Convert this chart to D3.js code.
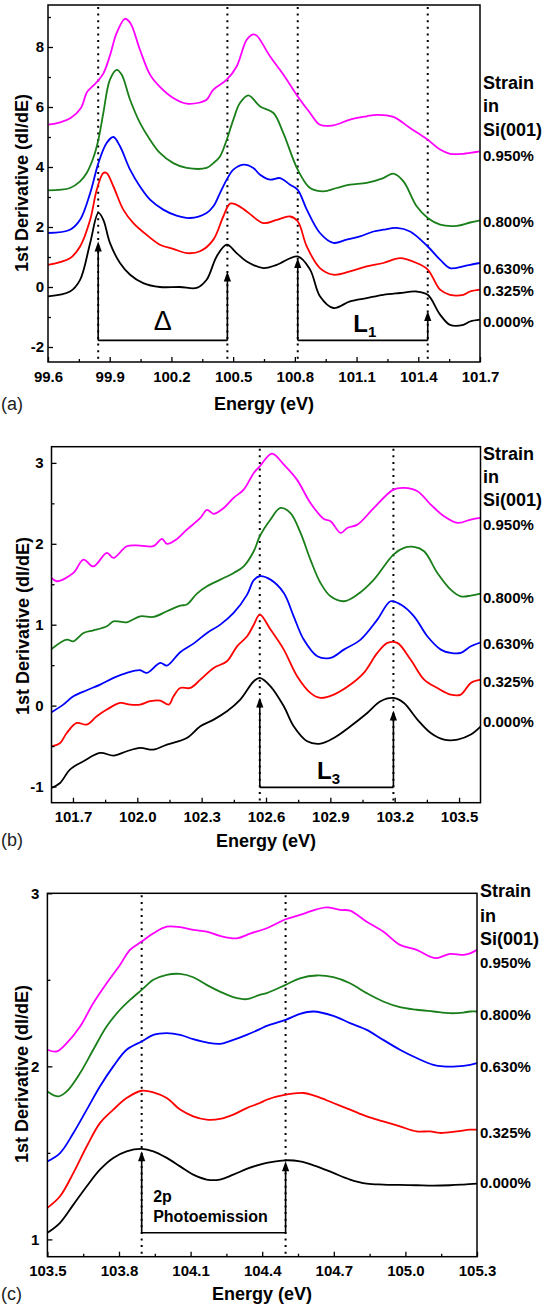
<!DOCTYPE html>
<html><head><meta charset="utf-8">
<script src="https://cdn.jsdelivr.net/npm/d3@7"></script>
<style>body{margin:0;background:#fff} svg{display:block} text{font-family:"Liberation Sans",Arial,sans-serif}</style>
</head><body><svg id="chart" width="546" height="1307"></svg>
<script>
// ---------------- DATA ----------------
const strainLabels = ["0.950%","0.800%","0.630%","0.325%","0.000%"];
const legendTitle = ["Strain","in","Si(001)"];

// Panel (a)  [energy eV, dI/dE]
const a950 = [[99.60,5.41],[99.66,5.49],[99.71,5.63],[99.76,5.97],[99.79,6.5],[99.82,6.71],[99.845,6.89],[99.87,7.13],[99.90,7.69],[99.934,8.47],[99.974,8.94],[100.0,8.8],[100.047,7.91],[100.096,7.08],[100.144,6.67],[100.209,6.30],[100.274,6.11],[100.339,6.15],[100.371,6.24],[100.404,6.58],[100.469,6.91],[100.517,7.35],[100.566,8.24],[100.598,8.42],[100.615,8.38],[100.679,7.69],[100.744,7.08],[100.814,6.35],[100.874,5.8],[100.922,5.41],[100.987,5.39],[101.068,5.58],[101.149,5.69],[101.198,5.74],[101.279,5.67],[101.36,5.3],[101.446,4.91],[101.506,4.58],[101.554,4.44],[101.619,4.44],[101.652,4.47],[101.70,4.52]];
const a800 = [[99.60,3.22],[99.707,3.3],[99.756,3.52],[99.788,3.8],[99.82,4.3],[99.845,4.91],[99.869,5.8],[99.901,6.91],[99.934,7.24],[99.958,7.08],[99.999,6.24],[100.047,5.47],[100.096,4.91],[100.144,4.47],[100.209,4.13],[100.274,3.97],[100.371,3.97],[100.404,4.13],[100.436,4.35],[100.469,4.91],[100.501,5.58],[100.533,6.13],[100.574,6.39],[100.631,6.02],[100.696,5.8],[100.744,5.13],[100.814,3.91],[100.874,3.3],[100.939,3.19],[101.003,3.3],[101.068,3.41],[101.149,3.47],[101.23,3.63],[101.279,3.78],[101.328,3.52],[101.392,2.69],[101.446,2.3],[101.506,2.08],[101.587,2.04],[101.652,2.15],[101.70,2.22]];
const a630 = [[99.60,1.8],[99.707,1.91],[99.756,2.24],[99.805,3.13],[99.845,4.13],[99.885,4.8],[99.918,5.0],[99.95,4.69],[99.999,3.91],[100.047,3.35],[100.096,2.91],[100.16,2.58],[100.225,2.38],[100.29,2.3],[100.371,2.47],[100.404,2.69],[100.436,3.13],[100.469,3.58],[100.501,3.91],[100.55,4.08],[100.598,3.97],[100.631,3.74],[100.679,3.58],[100.728,3.63],[100.777,3.41],[100.814,3.24],[100.858,2.58],[100.922,1.8],[100.987,1.47],[101.052,1.58],[101.117,1.69],[101.182,1.85],[101.23,1.91],[101.295,1.97],[101.36,1.85],[101.446,1.35],[101.506,0.91],[101.554,0.63],[101.619,0.69],[101.652,0.74],[101.70,0.8]];
const a325 = [[99.60,0.74],[99.707,0.96],[99.756,1.35],[99.805,2.24],[99.837,3.24],[99.869,3.8],[99.885,3.8],[99.918,3.35],[99.966,2.58],[100.015,2.13],[100.079,1.74],[100.144,1.41],[100.209,1.27],[100.274,1.13],[100.339,1.19],[100.404,1.58],[100.452,2.35],[100.485,2.78],[100.517,2.74],[100.566,2.52],[100.647,2.13],[100.712,2.24],[100.777,2.35],[100.814,2.19],[100.858,1.35],[100.922,0.63],[100.987,0.41],[101.068,0.52],[101.149,0.69],[101.23,0.8],[101.311,0.96],[101.392,0.8],[101.446,0.58],[101.506,-0.09],[101.554,-0.26],[101.619,-0.26],[101.652,-0.15],[101.70,-0.09]];
const a000 = [[99.60,-0.31],[99.707,-0.15],[99.756,0.24],[99.805,1.47],[99.845,2.47],[99.869,2.24],[99.901,1.47],[99.95,0.8],[99.999,0.41],[100.063,0.13],[100.144,0.0],[100.241,0.0],[100.323,-0.03],[100.371,0.24],[100.42,1.02],[100.469,1.41],[100.517,1.13],[100.566,0.85],[100.647,0.63],[100.712,0.74],[100.814,1.02],[100.874,0.58],[100.922,-0.31],[100.987,-0.7],[101.068,-0.48],[101.149,-0.37],[101.23,-0.26],[101.311,-0.2],[101.392,-0.15],[101.446,-0.26],[101.506,-0.92],[101.554,-1.26],[101.619,-1.26],[101.652,-1.15],[101.70,-1.09]];

// Panel (b)
const b950 = [[101.6,1.578],[101.624,1.537],[101.702,1.64],[101.749,1.805],[101.795,1.72],[101.858,1.887],[101.889,1.825],[101.951,1.97],[102.013,1.978],[102.075,1.97],[102.115,2.06],[102.138,2.0],[102.185,2.06],[102.231,2.175],[102.294,2.32],[102.325,2.42],[102.356,2.37],[102.402,2.44],[102.449,2.567],[102.496,2.67],[102.543,2.876],[102.571,2.958],[102.628,3.115],[102.683,2.979],[102.745,2.79],[102.807,2.505],[102.87,2.307],[102.901,2.28],[102.948,2.134],[102.979,2.196],[103.026,2.237],[103.103,2.443],[103.194,2.67],[103.243,2.69],[103.306,2.65],[103.368,2.485],[103.43,2.34],[103.493,2.258],[103.555,2.3],[103.6,2.32]];
const b800 = [[101.6,0.70],[101.671,0.816],[101.702,0.795],[101.749,0.898],[101.795,0.931],[101.858,0.981],[101.889,1.042],[101.951,1.03],[102.013,1.104],[102.075,1.096],[102.138,1.166],[102.2,1.236],[102.231,1.249],[102.278,1.384],[102.325,1.475],[102.387,1.557],[102.449,1.64],[102.496,1.722],[102.543,1.908],[102.571,2.093],[102.621,2.3],[102.667,2.443],[102.714,2.38],[102.761,2.134],[102.807,1.805],[102.854,1.516],[102.901,1.351],[102.963,1.29],[103.026,1.372],[103.103,1.557],[103.194,1.866],[103.243,1.949],[103.29,1.961],[103.337,1.908],[103.399,1.64],[103.461,1.434],[103.508,1.351],[103.555,1.36],[103.6,1.384]];
const b630 = [[101.6,-0.082],[101.655,0.012],[101.702,0.115],[101.764,0.19],[101.827,0.26],[101.889,0.342],[101.951,0.404],[102.013,0.437],[102.045,0.404],[102.107,0.528],[102.138,0.495],[102.2,0.66],[102.262,0.766],[102.325,0.898],[102.387,1.001],[102.449,1.145],[102.512,1.372],[102.543,1.55],[102.571,1.599],[102.621,1.557],[102.683,1.393],[102.729,1.104],[102.776,0.816],[102.839,0.61],[102.901,0.59],[102.963,0.692],[103.041,0.816],[103.119,1.063],[103.181,1.29],[103.228,1.249],[103.29,1.104],[103.352,0.857],[103.415,0.692],[103.461,0.651],[103.508,0.651],[103.555,0.733],[103.6,0.78]];
const b325 = [[101.6,-0.503],[101.64,-0.462],[101.671,-0.338],[101.718,-0.214],[101.764,-0.235],[101.811,-0.132],[101.858,-0.049],[101.92,0.033],[101.967,0.012],[102.013,0.012],[102.06,0.054],[102.107,0.062],[102.146,0.012],[102.169,0.115],[102.2,0.218],[102.247,0.218],[102.294,0.321],[102.356,0.466],[102.418,0.548],[102.465,0.733],[102.512,0.857],[102.543,1.0],[102.571,1.125],[102.621,0.94],[102.683,0.692],[102.745,0.363],[102.807,0.157],[102.854,0.095],[102.916,0.136],[102.994,0.26],[103.056,0.404],[103.119,0.651],[103.166,0.775],[103.212,0.775],[103.274,0.569],[103.337,0.321],[103.399,0.218],[103.461,0.136],[103.508,0.136],[103.555,0.28],[103.6,0.32]];
const b000 = [[101.6,-1.018],[101.64,-0.956],[101.686,-0.791],[101.749,-0.688],[101.827,-0.585],[101.889,-0.618],[101.951,-0.564],[102.013,-0.523],[102.075,-0.544],[102.138,-0.482],[102.231,-0.4],[102.294,-0.255],[102.356,-0.173],[102.418,-0.07],[102.48,0.074],[102.543,0.301],[102.571,0.342],[102.621,0.239],[102.683,-0.008],[102.729,-0.255],[102.792,-0.441],[102.854,-0.47],[102.916,-0.4],[102.994,-0.255],[103.072,-0.091],[103.134,0.054],[103.194,0.095],[103.243,0.033],[103.306,-0.173],[103.368,-0.338],[103.43,-0.42],[103.493,-0.42],[103.555,-0.358],[103.6,-0.26]];

// Panel (c)
const c950 = [[103.5,2.096],[103.539,2.086],[103.581,2.134],[103.637,2.23],[103.692,2.365],[103.748,2.48],[103.804,2.586],[103.846,2.673],[103.895,2.721],[103.944,2.769],[104.0,2.807],[104.056,2.804],[104.111,2.788],[104.167,2.779],[104.223,2.754],[104.293,2.74],[104.349,2.767],[104.419,2.798],[104.498,2.85],[104.558,2.875],[104.628,2.907],[104.67,2.919],[104.726,2.904],[104.768,2.9],[104.838,2.836],[104.907,2.779],[104.977,2.702],[105.047,2.673],[105.103,2.634],[105.131,2.625],[105.187,2.65],[105.243,2.644],[105.271,2.653],[105.3,2.673]];
const c800 = [[103.5,1.855],[103.546,1.826],[103.581,1.855],[103.637,1.961],[103.692,2.096],[103.748,2.23],[103.804,2.327],[103.846,2.384],[103.895,2.442],[103.944,2.5],[104.0,2.529],[104.056,2.534],[104.111,2.515],[104.167,2.471],[104.223,2.432],[104.279,2.4],[104.335,2.388],[104.39,2.413],[104.419,2.423],[104.498,2.471],[104.558,2.509],[104.628,2.525],[104.698,2.515],[104.768,2.48],[104.838,2.423],[104.907,2.375],[104.977,2.342],[105.047,2.327],[105.117,2.317],[105.187,2.307],[105.243,2.311],[105.271,2.317],[105.3,2.317]];
const c630 = [[103.5,1.451],[103.553,1.499],[103.609,1.615],[103.665,1.75],[103.72,1.884],[103.776,2.0],[103.832,2.096],[103.895,2.144],[103.944,2.182],[104.0,2.192],[104.056,2.182],[104.111,2.157],[104.167,2.138],[104.223,2.13],[104.279,2.153],[104.335,2.182],[104.39,2.215],[104.419,2.234],[104.498,2.269],[104.558,2.303],[104.614,2.317],[104.698,2.292],[104.768,2.25],[104.838,2.211],[104.907,2.153],[104.977,2.096],[105.047,2.048],[105.117,2.009],[105.159,2.0],[105.215,2.0],[105.271,2.009],[105.3,2.019]];
const c325 = [[103.5,1.182],[103.553,1.249],[103.609,1.384],[103.665,1.538],[103.72,1.672],[103.776,1.75],[103.832,1.817],[103.895,1.859],[103.944,1.85],[104.0,1.817],[104.056,1.75],[104.111,1.711],[104.167,1.692],[104.223,1.696],[104.279,1.721],[104.335,1.759],[104.39,1.788],[104.419,1.807],[104.498,1.836],[104.572,1.846],[104.628,1.826],[104.698,1.788],[104.768,1.75],[104.838,1.711],[104.907,1.682],[104.977,1.653],[105.047,1.624],[105.103,1.624],[105.145,1.615],[105.215,1.624],[105.271,1.634],[105.3,1.634]];
const c000 = [[103.5,1.038],[103.553,1.096],[103.609,1.201],[103.665,1.307],[103.72,1.403],[103.776,1.471],[103.832,1.509],[103.895,1.523],[103.944,1.509],[104.0,1.471],[104.056,1.422],[104.111,1.374],[104.167,1.346],[104.223,1.346],[104.279,1.374],[104.335,1.407],[104.39,1.432],[104.419,1.442],[104.498,1.457],[104.558,1.451],[104.628,1.422],[104.698,1.384],[104.768,1.346],[104.838,1.322],[104.907,1.317],[104.977,1.315],[105.047,1.313],[105.117,1.311],[105.187,1.313],[105.243,1.317],[105.3,1.322]];

// Tick values
const aXTicks = [99.6,99.9,100.2,100.5,100.8,101.1,101.4,101.7];
const aYTicks = [-2,0,2,4,6,8];
const aYMinor = [-1,1,3,5,7,9];
const bXTicks = [101.7,102.0,102.3,102.6,102.9,103.2,103.5];
const bYTicks = [-1,0,1,2,3];
const bYMinor = [-0.5,0.5,1.5,2.5];
const cXTicks = [103.5,103.8,104.1,104.4,104.7,105.0,105.3];
const cYTicks = [1,2,3];
const cYMinor = [1.5,2.5];

// Dotted marker energies
const aMarkers = [99.844,100.472,100.814,101.446];
const bMarkers = [102.571,103.194];
const cMarkers = [103.895,104.498];

// Bracket annotations: [from, to, base level, tip1, tip2]
const aBrackets = [[99.844,100.472,-1.78,1.52,0.52],[100.814,101.446,-1.78,0.97,-0.8]];
const bBrackets = [[102.571,103.194,-1.01,0.1,-0.06]];
const cBrackets = [[103.895,104.498,1.038,1.51,1.451]];

// ---------------- LAYOUT ----------------
const colors = ["#ff00ff","#1a7f1a","#0000ff","#ff0000","#000000"];
const panels = [
  {tag:"(a)", frame:{l:48,r:480,t:5,b:362}, xDomain:[99.6,101.7], yDomain:[-2.5,9.4],
   xTicks:aXTicks, yTicks:aYTicks, yMinor:aYMinor, ypad:4,
   series:[a950,a800,a630,a325,a000], markers:aMarkers, brackets:aBrackets,
   labX:483, titleBase:[89.3,111.7,135.5], strainBase:[161,227,273.7,296,327],
   yTitle:{x:27.5,y:183}, xTitle:{x:264,y:410}, tagY:410},
  {tag:"(b)", frame:{l:51.5,r:480.5,t:446.7,b:802.7}, xDomain:[101.6,103.6], yDomain:[-1.2,3.2],
   xTicks:bXTicks, yTicks:bYTicks, yMinor:bYMinor, ypad:8,
   series:[b950,b800,b630,b325,b000], markers:bMarkers, brackets:bBrackets,
   labX:483, titleBase:[460,483,506], strainBase:[530,602.7,649,687,726.7],
   yTitle:{x:29,y:626}, xTitle:{x:266,y:847}, tagY:846},
  {tag:"(c)", frame:{l:47.4,r:477,t:893.3,b:1256.7}, xDomain:[103.5,105.3], yDomain:[0.9,3.0],
   xTicks:cXTicks, yTicks:cYTicks, yMinor:cYMinor, ypad:8,
   series:[c950,c800,c630,c325,c000], markers:cMarkers, brackets:cBrackets,
   labX:480, titleBase:[896.7,921.7,945], strainBase:[968.3,1020,1071.7,1138.3,1188.3],
   yTitle:{x:27.5,y:1074}, xTitle:{x:262,y:1300}, tagY:1300}
];

// ---------------- DRAW ----------------
const svg = d3.select("#chart");
svg.append("rect").attr("width",546).attr("height",1307).attr("fill","#fff");

function styleAxis(sel){
  sel.select(".domain").remove();
  sel.selectAll(".tick line").attr("stroke","#000").attr("stroke-width",1.3);
  sel.selectAll(".tick text").attr("fill","#000").attr("font-size",15).attr("font-weight","bold")
     .attr("font-family","'Liberation Sans',Arial,sans-serif");
}

panels.forEach((p, pi) => {
  const f = p.frame;
  const x = d3.scaleLinear().domain(p.xDomain).range([f.l, f.r]);
  const y = d3.scaleLinear().domain(p.yDomain).range([f.b, f.t]);
  const g = svg.append("g");

  // dotted markers
  g.selectAll("line.mk").data(p.markers).join("line").attr("class","mk")
    .attr("x1",d=>x(d)).attr("x2",d=>x(d)).attr("y1",f.t+2).attr("y2",f.b)
    .attr("stroke","#000").attr("stroke-width",2).attr("stroke-dasharray","2,4.6");

  // curves
  const line = d3.line().x(d=>x(d[0])).y(d=>y(d[1])).curve(d3.curveCatmullRom.alpha(0.5));
  p.series.forEach((s,i) => {
    g.append("path").attr("d", line(s)).attr("fill","none")
      .attr("stroke", colors[i]).attr("stroke-width",1.8).attr("stroke-linejoin","round");
  });

  // x minor ticks (every 0.15)
  const step = 0.3;
  const xMinor = p.xTicks.slice(0,-1).map(v => +(v + step/2).toFixed(2));
  if (p.xTicks[0] - step/2 > p.xDomain[0]) xMinor.unshift(+(p.xTicks[0]-step/2).toFixed(2));
  const last = p.xTicks[p.xTicks.length-1] + step/2;
  if (last < p.xDomain[1]) xMinor.push(+last.toFixed(2));

  const xa = g.append("g").attr("transform",`translate(0,${f.b})`)
    .call(d3.axisBottom(x).tickValues(p.xTicks).tickSize(-5).tickPadding(9).tickFormat(d3.format(".1f")));
  styleAxis(xa);
  const xm = g.append("g").attr("transform",`translate(0,${f.b})`)
    .call(d3.axisBottom(x).tickValues(xMinor).tickSize(-3).tickFormat(""));
  styleAxis(xm);

  const ya = g.append("g").attr("transform",`translate(${f.l},0)`)
    .call(d3.axisLeft(y).tickValues(p.yTicks).tickSize(-5).tickPadding(p.ypad).tickFormat(d=>String(d)));
  styleAxis(ya);
  const ym = g.append("g").attr("transform",`translate(${f.l},0)`)
    .call(d3.axisLeft(y).tickValues(p.yMinor).tickSize(-3).tickFormat(""));
  styleAxis(ym);

  // frame
  g.append("rect").attr("x",f.l).attr("y",f.t).attr("width",f.r-f.l).attr("height",f.b-f.t)
    .attr("fill","none").attr("stroke","#000").attr("stroke-width",1.5);

  // right labels
  legendTitle.forEach((t,i) => g.append("text").attr("x",p.labX).attr("y",p.titleBase[i])
    .attr("font-size",18).attr("font-weight","bold").attr("fill","#000").text(t));
  strainLabels.forEach((t,i) => g.append("text").attr("x",p.labX).attr("y",p.strainBase[i])
    .attr("font-size",15).attr("font-weight","bold").attr("fill","#000").text(t));

  // axis titles
  g.append("text").attr("transform",`translate(${p.yTitle.x},${p.yTitle.y}) rotate(-90)`)
    .attr("text-anchor","middle").attr("font-size",18).attr("font-weight","bold").text("1st Derivative (dI/dE)");
  g.append("text").attr("x",p.xTitle.x).attr("y",p.xTitle.y).attr("text-anchor","middle")
    .attr("font-size",18).attr("font-weight","bold").text("Energy (eV)");
  g.append("text").attr("x",1).attr("y",p.tagY).attr("font-size",18).attr("fill","#222").text(p.tag);

  // brackets with arrows
  p.brackets.forEach((b, bi) => {
    const x1 = x(b[0]), x2 = x(b[1]), yb = y(b[2]);
    const tips = [y(b[3]), y(b[4])];
    g.append("line").attr("x1",x1).attr("x2",x2).attr("y1",yb).attr("y2",yb)
      .attr("stroke","#000").attr("stroke-width",1.6);
    [x1,x2].forEach((xx,k) => {
      g.append("line").attr("x1",xx).attr("x2",xx).attr("y1",yb).attr("y2",tips[k]+8)
        .attr("stroke","#000").attr("stroke-width",1.6);
      g.append("path").attr("d",`M${xx},${tips[k]} L${xx-3.6},${tips[k]+10} L${xx+3.6},${tips[k]+10} Z`)
        .attr("fill","#000");
    });
    const mid = (x1+x2)/2;
    if (pi === 0 && bi === 0) {
      g.append("text").attr("x",mid).attr("y",yb-10.5).attr("text-anchor","middle")
        .attr("font-family","'Liberation Serif','Times New Roman',serif").attr("font-size",27).text("Δ");
    } else if (pi === 2) {
      g.append("text").attr("x",x1+11.5).attr("y",yb-30.5).attr("font-size",16).attr("font-weight","bold").text("2p");
      g.append("text").attr("x",x1+11.5).attr("y",yb-10.5).attr("font-size",16).attr("font-weight","bold").text("Photoemission");
    } else {
      const t = g.append("text").attr("x",mid+2).attr("y",yb-8).attr("text-anchor","middle")
        .attr("font-size",24).attr("font-weight","bold");
      t.append("tspan").text("L");
      t.append("tspan").attr("font-size",15).attr("dy",5).text(pi === 0 ? "1" : "3");
    }
  });
});
</script>
</body></html>
